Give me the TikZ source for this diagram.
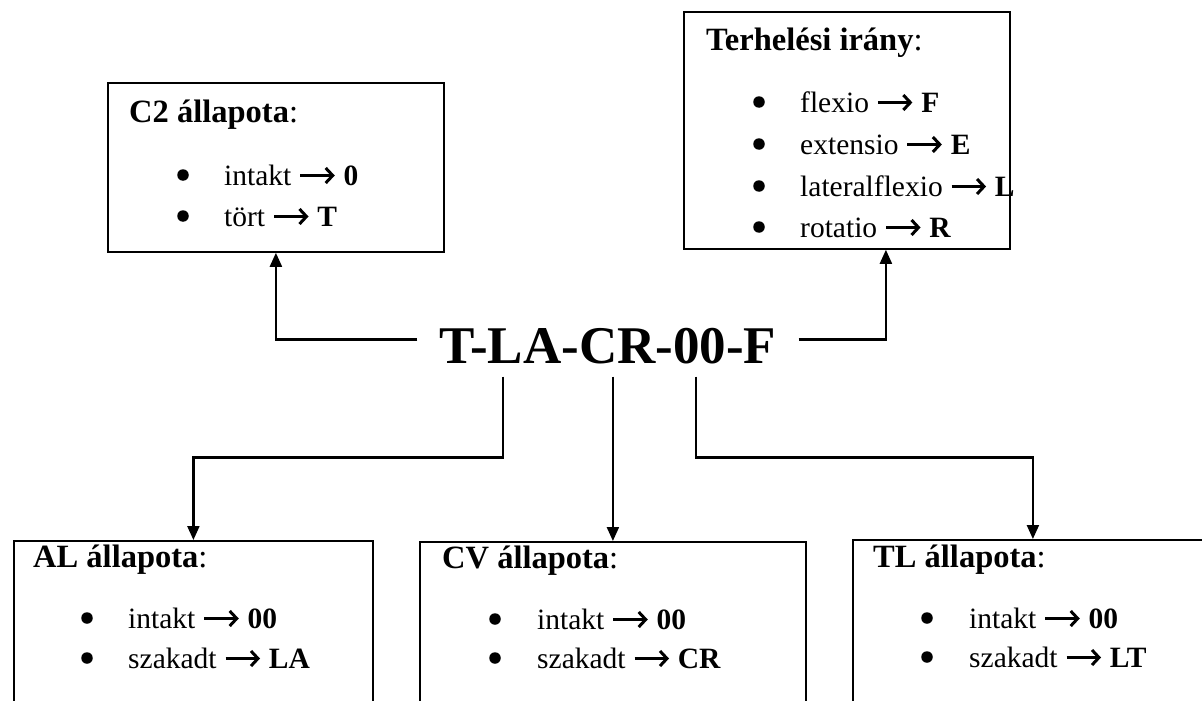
\documentclass[tikz,border=0pt]{standalone}
\usepackage{fontspec}
\setmainfont{Liberation Serif}
\usetikzlibrary{arrows.meta}
\newcommand{\arr}{\tikz[baseline=0pt,x=1pt,y=1pt]{\path (0,0) (37,0);\draw[line width=3pt,-{Straight Barb[length=7pt,width=15pt]}] (1,9.5)--(35.5,9.5);}}
\begin{document}
\begin{tikzpicture}[x=1pt,y=-1pt,
  box/.style={draw,line width=1.8pt,inner sep=0pt,anchor=north west},
  txt/.style={inner sep=0pt,anchor=base west,font=\fontsize{29.5}{35}\selectfont},
  head/.style={inner sep=0pt,anchor=base west,font=\fontsize{32.5}{38}\selectfont},
  bul/.style={circle,fill,inner sep=0pt,minimum size=11.5pt},
  conn/.style={line width=2.2pt,-{Triangle[length=14pt,width=12pt]}}]
\path[use as bounding box] (0,0) rectangle (1202,701);
\clip (0,0) rectangle (1202,701);
% boxes
\node[box,minimum width=336pt,minimum height=169pt] (c2) at (107,82) {};
\node[box,minimum width=326pt,minimum height=237pt] (th) at (683,11) {};
\node[box,minimum width=359pt,minimum height=200pt] (al) at (13,540) {};
\node[box,minimum width=386pt,minimum height=200pt] (cv) at (419,541) {};
\node[box,minimum width=360pt,minimum height=200pt] (tl) at (852,539) {};
% central code
\node[inner xsep=22pt,inner ysep=12pt,font=\fontsize{53}{60}\selectfont\bfseries] (code) at (608,346.5) {T-LA-CR-00-F};
% C2 texts
\node[head] (c2h) at (129,122) {\textbf{C2 állapota}:};
\node[bul] (c2b1) at (183,175) {};
\node[txt] (c2i1) at (224,185) {intakt \arr\ \textbf{0}};
\node[bul] (c2b2) at (183,216) {};
\node[txt] (c2i2) at (224,226) {tört \arr\ \textbf{T}};
% Terhelesi texts
\node[head] (thh) at (706,51) {\textbf{Terhelési irány}:};
\node[bul] (thb1) at (759,102) {};
\node[txt] (thi1) at (800,112) {flexio \arr\ \textbf{F}};
\node[bul] (thb2) at (759,144) {};
\node[txt] (thi2) at (800,154) {extensio \arr\ \textbf{E}};
\node[bul] (thb3) at (759,186) {};
\node[txt] (thi3) at (800,196) {lateralflexio \arr\ \textbf{L}};
\node[bul] (thb4) at (759,227) {};
\node[txt] (thi4) at (800,237) {rotatio \arr\ \textbf{R}};
% AL texts
\node[head] (alh) at (33,567) {\textbf{AL állapota}:};
\node[bul] (alb1) at (87,618) {};
\node[txt] (ali1) at (128,628) {intakt \arr\ \textbf{00}};
\node[bul] (alb2) at (87,658) {};
\node[txt] (ali2) at (128,668) {szakadt \arr\ \textbf{LA}};
% CV texts
\node[head] (cvh) at (442,568) {\textbf{CV állapota}:};
\node[bul] (cvb1) at (495,619) {};
\node[txt] (cvi1) at (537,629) {intakt \arr\ \textbf{00}};
\node[bul] (cvb2) at (495,658) {};
\node[txt] (cvi2) at (537,668) {szakadt \arr\ \textbf{CR}};
% TL texts
\node[head] (tlh) at (873,567) {\textbf{TL állapota}:};
\node[bul] (tlb1) at (927,618) {};
\node[txt] (tli1) at (969,628) {intakt \arr\ \textbf{00}};
\node[bul] (tlb2) at (927,657) {};
\node[txt] (tli2) at (969,667) {szakadt \arr\ \textbf{LT}};
% connectors
\draw[conn] ([yshift=7pt]code.west) -| (c2.south);
\draw[conn] ([yshift=7pt]code.east) -| ([xshift=39pt]th.south);
\draw[conn] ([xshift=-105pt]code.south) -- ++(0,81) -| (al.north);
\draw[conn] (code.south -| cv.north) -- (cv.north);
\draw[conn] ([xshift=88pt]code.south) -- ++(0,81) -| (tl.north);
\end{tikzpicture}
\end{document}
